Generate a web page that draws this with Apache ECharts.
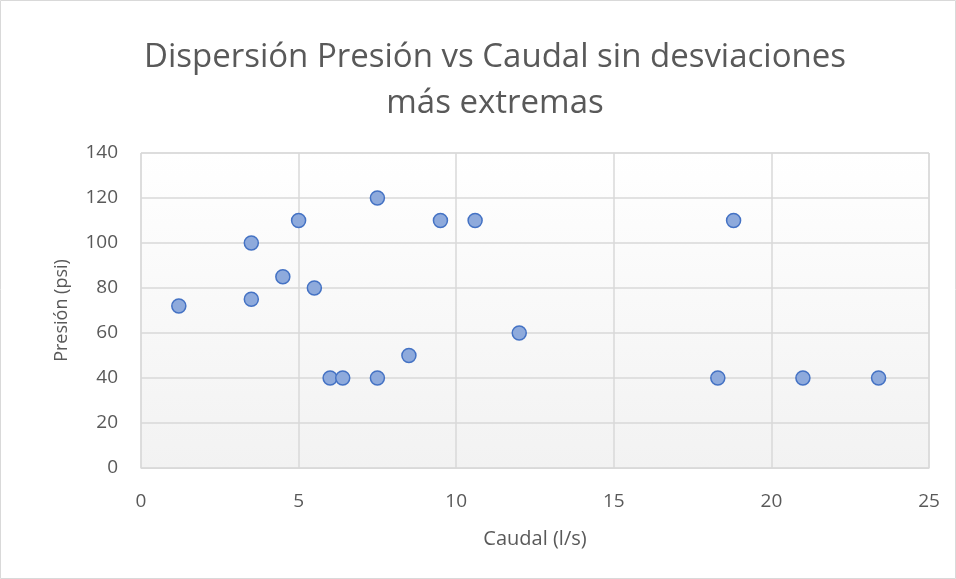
<!DOCTYPE html>
<html>
<head>
<meta charset="utf-8">
<script src="https://cdn.jsdelivr.net/npm/echarts@6/dist/echarts.min.js"></script>
<style>
  html, body { margin: 0; padding: 0; background: #fff; }
  #main { width: 956px; height: 579px; }
</style>
</head>
<body>
<div id="main"></div>
<script>
// Caudal (l/s) y Presión (psi)
const caudal = [1.2, 3.5, 3.5, 4.5, 5, 5.5, 6, 6.4, 7.5, 7.5, 8.5, 9.5, 10.6, 12, 18.3, 18.8, 21, 23.4];
const presion = [72, 100, 75, 85, 110, 80, 40, 40, 120, 40, 50, 110, 110, 60, 40, 110, 40, 40];

const puntos = caudal.map((x, i) => [x, presion[i]]);

const myChart = echarts.init(document.getElementById('main'));
const textFont = '"Open Sans", Lato, sans-serif';

const option = {
  animation: false,
  textStyle: { fontFamily: textFont },
  title: {
    text: 'Dispersión Presión vs Caudal sin desviaciones\nmás extremas',
    left: 490,
    textAlign: 'center',
    top: 30,
    textStyle: {
      color: '#595959',
      fontSize: 33,
      fontWeight: 'normal',
      lineHeight: 46,
      fontFamily: textFont
    }
  },
  graphic: [{
    type: 'rect',
    shape: { x: 0.5, y: 0.5, width: 955, height: 578 },
    style: { fill: 'none', stroke: '#d9d9d9', lineWidth: 1 },
    z: -10
  }],
  grid: {
    left: 141,
    right: 27,
    top: 153,
    bottom: 111,
    show: true,
    borderColor: '#d9d9d9',
    borderWidth: 1,
    backgroundColor: new echarts.graphic.LinearGradient(0, 0, 0, 1, [
      { offset: 0, color: '#ffffff' },
      { offset: 1, color: '#f2f2f2' }
    ])
  },
  xAxis: {
    type: 'value',
    min: 0,
    max: 25,
    interval: 5,
    name: 'Caudal (l/s)',
    nameLocation: 'middle',
    nameGap: 61,
    nameTextStyle: { color: '#595959', fontSize: 20, fontFamily: textFont },
    axisLine: { show: true, lineStyle: { color: '#d9d9d9' } },
    axisTick: { show: false },
    axisLabel: { color: '#595959', fontSize: 19, margin: 24, fontFamily: textFont },
    splitLine: { show: true, lineStyle: { color: '#d9d9d9', width: 1.5 } }
  },
  yAxis: {
    type: 'value',
    min: 0,
    max: 140,
    interval: 20,
    name: 'Presión (psi)',
    nameLocation: 'middle',
    nameGap: 70,
    nameTextStyle: { color: '#595959', fontSize: 18, fontFamily: textFont },
    axisLine: { show: false },
    axisTick: { show: false },
    axisLabel: { color: '#595959', fontSize: 19, margin: 23, fontFamily: textFont },
    splitLine: { show: true, lineStyle: { color: '#d9d9d9', width: 1.5 } }
  },
  series: [{
    type: 'scatter',
    data: puntos,
    symbol: 'circle',
    symbolSize: 14,
    itemStyle: {
      color: '#8eaadc',
      borderColor: '#4472c4',
      borderWidth: 1.5,
      opacity: 1
    }
  }]
};

myChart.setOption(option);
</script>
</body>
</html>
